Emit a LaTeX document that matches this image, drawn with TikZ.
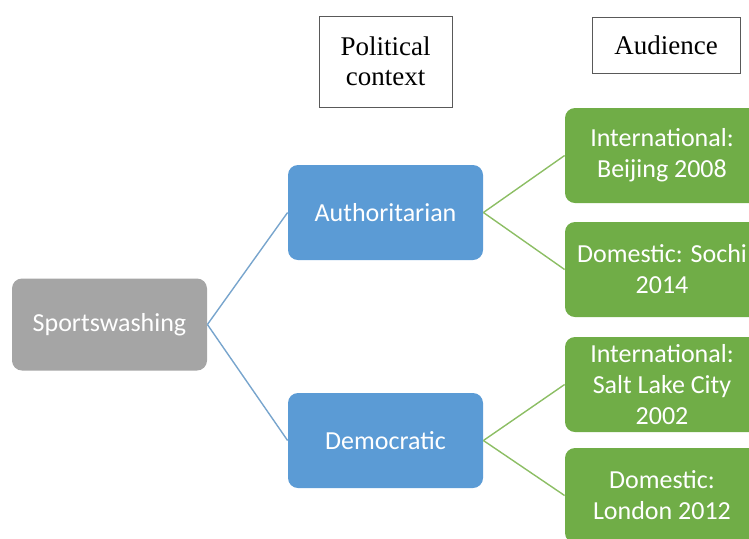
\documentclass[tikz,border=0pt]{standalone}
\usepackage{fontspec}
\setmainfont{Liberation Serif}
\newfontfamily\boxfont{Carlito}
\definecolor{sportsGray}{RGB}{165,165,165}
\definecolor{contextBlue}{RGB}{91,155,213}
\definecolor{audienceGreen}{RGB}{112,173,71}
\definecolor{contextLine}{RGB}{120,165,205}
\definecolor{audienceLine}{RGB}{140,190,100}

\begin{document}
\begin{tikzpicture}[x=0.5pt,y=-0.5pt]
		\useasboundingbox (0,0) rectangle (749,538);
		\clip (0,0) rectangle (749,538);

		% Column headers
		\begin{scope}[every node/.style={draw=black!65,line width=0.5pt,align=center,inner sep=0pt,font=\fontsize{13.5}{15}\selectfont}]
			\node[minimum width=66.5pt,minimum height=45.5pt] (P) at (385.5,61.5) {Political\\context};
			\node[minimum width=74pt,minimum height=28pt] (Q) at (666,45) {Audience};
		\end{scope}

		% Root
		\begin{scope}[every node/.style={fill=sportsGray,rounded corners=5pt,text=white,minimum width=97.5pt,minimum height=46pt,font=\boxfont\fontsize{13}{15.5}\selectfont}]
			\node (S) at (109.5,324.5) {Sportswashing};
		\end{scope}

		% Political context
		\begin{scope}[every node/.style={fill=contextBlue,rounded corners=5pt,text=white,minimum width=97.5pt,minimum height=47.5pt,font=\boxfont\fontsize{13}{15.5}\selectfont}]
			\node (A) at (385.5,212.5) {Authoritarian};
			\node (D) at (385.5,440.5) {Democratic};
		\end{scope}

		% Audience
		\begin{scope}[every node/.style={fill=audienceGreen,rounded corners=5pt,text=white,align=center,minimum width=97pt,minimum height=47.5pt,font=\boxfont\fontsize{13}{15.5}\selectfont}]
			\node (a) at (662,155.5) {International:\\Beijing 2008};
			\node (b) at (662,269.5) {Domestic: Sochi\\2014};
			\node (c) at (662,384.5) {International:\\Salt Lake City\\2002};
			\node (d) at (662,495.5) {Domestic:\\London 2012};
		\end{scope}

		% Connectors
		\begin{scope}[every edge/.style={draw=contextLine,line width=0.7pt}]
			\path (S.east) edge (A.west);
			\path (S.east) edge (D.west);
		\end{scope}
		\begin{scope}[every edge/.style={draw=audienceLine,line width=0.7pt}]
			\path (A.east) edge (a.west);
			\path (A.east) edge (b.west);
			\path (D.east) edge (c.west);
			\path (D.east) edge (d.west);
		\end{scope}
	\end{tikzpicture}
\end{document}
